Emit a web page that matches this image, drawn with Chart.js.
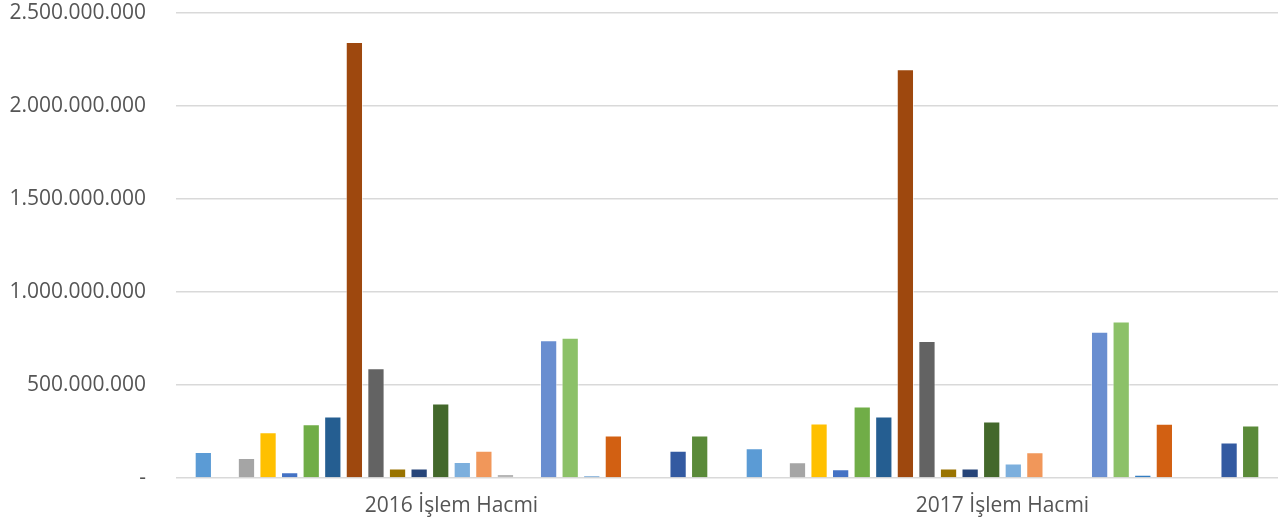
<!DOCTYPE html>
<html>
<head>
<meta charset="utf-8">
<script src="https://cdn.jsdelivr.net/npm/chart.js@4.4.1/dist/chart.umd.min.js"></script>
<style>
  html, body { margin: 0; padding: 0; background: #ffffff; }
  #wrap { width: 1285px; height: 525px; position: relative; }
</style>
</head>
<body>
<div id="wrap"><canvas id="chart"></canvas></div>
<script>
// categories on the x axis
const categories = ["2016 İşlem Hacmi", "2017 İşlem Hacmi"];

// one value per series, in series order (24 series)
const values2016 = [
  140e6, 0, 108e6, 246e6, 31e6, 289e6,
  330e6, 2344e6, 590e6, 51e6, 51e6, 400e6,
  86e6, 147e6, 22e6, 0, 740e6, 754e6,
  11e6, 228e6, 0, 0, 147e6, 228e6,
];
const values2017 = [
  160e6, 0, 85e6, 293e6, 47e6, 384e6,
  330e6, 2198e6, 736e6, 51e6, 51e6, 304e6,
  78e6, 138e6, 0, 0, 786e6, 842e6,
  18e6, 291e6, 0, 0, 191e6, 282e6,
];

// Excel office palette, series 1..24
const seriesColors = [
  "#5B9BD5", "#ED7D31", "#A5A5A5", "#FFC000", "#4472C4", "#70AD47",
  "#255E91", "#9E480E", "#636363", "#997300", "#264478", "#43682B",
  "#7CAFDD", "#F1975A", "#B7B7B7", "#FFCD33", "#698ED0", "#8CC168",
  "#327DC2", "#D26012", "#848484", "#CC9A00", "#335AA1", "#5A8A39",
];

const yTicks = [0, 500e6, 1000e6, 1500e6, 2000e6, 2500e6];

const fmt = (v) => (v === 0 ? "-" : Math.round(v).toString().replace(/\B(?=(\d{3})+(?!\d))/g, "."));

const datasets = seriesColors.map((c, i) => ({
  label: "Seri " + (i + 1),
  data: [values2016[i], values2017[i]],
  backgroundColor: c,
  borderColor: "rgba(255,255,255,0.55)",
  borderWidth: 1,
  categoryPercentage: 0.94,
  barPercentage: 0.8,
}));

const textColor = "#555555";
const font = { family: "'Open Sans', sans-serif", size: 21 };

new Chart(document.getElementById("chart"), {
  type: "bar",
  data: { labels: categories, datasets },
  options: {
    responsive: true,
    maintainAspectRatio: false,
    animation: false,
    layout: { padding: { top: 13, right: 7, left: 0, bottom: 0 } },
    plugins: {
      legend: { display: false },
      tooltip: { enabled: false },
    },
    scales: {
      x: {
        grid: { display: false, drawTicks: false },
        border: { display: false },
        ticks: { color: textColor, font, padding: 15 },
        afterFit: (s) => { s.height = 47; },
      },
      y: {
        min: 0,
        max: 2500e6,
        afterBuildTicks: (s) => { s.ticks = yTicks.map((v) => ({ value: v })); },
        grid: { color: "#D9D9D9", lineWidth: 1.5, drawTicks: false },
        border: { display: false },
        ticks: { color: textColor, font, padding: 30, callback: (v) => fmt(v) },
        afterFit: (s) => { s.width = 176; s.paddingTop = 0; s.paddingBottom = 0; },
      },
    },
  },
});
</script>
</body>
</html>
